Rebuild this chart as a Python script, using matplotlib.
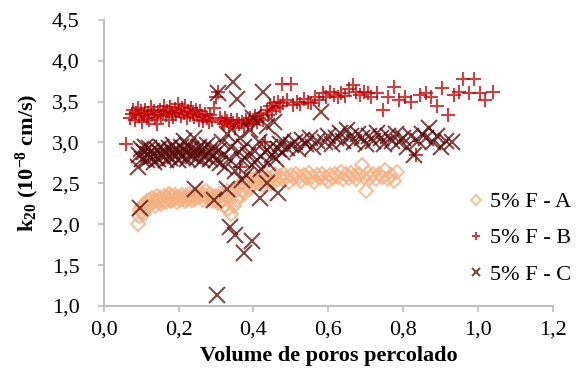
#!/usr/bin/env python3
# -*- coding: utf-8 -*-
import matplotlib
matplotlib.use('Agg')
import matplotlib.pyplot as plt

plt.rcParams['font.family'] = ['Liberation Serif', 'DejaVu Serif']
plt.rcParams['mathtext.fontset'] = 'custom'
plt.rcParams['mathtext.rm'] = 'Liberation Serif:bold'
plt.rcParams['mathtext.it'] = 'Liberation Serif:bold'
plt.rcParams['mathtext.bf'] = 'Liberation Serif:bold'
plt.rcParams['mathtext.default'] = 'rm'

# 5% F - A (diamonds)
a_x = [0.090, 0.093, 0.096, 0.100, 0.103, 0.106, 0.110, 0.113, 0.116, 0.120,
       0.123, 0.126, 0.130, 0.133, 0.136, 0.140, 0.143, 0.146, 0.150, 0.153,
       0.156, 0.160, 0.163, 0.166, 0.170, 0.173, 0.176, 0.180, 0.183, 0.186,
       0.190, 0.193, 0.196, 0.200, 0.204, 0.208, 0.212, 0.216, 0.220, 0.224,
       0.228, 0.232, 0.236, 0.240, 0.244, 0.248, 0.252, 0.256, 0.260, 0.264,
       0.268, 0.272, 0.276, 0.280, 0.284, 0.288, 0.292, 0.296, 0.300, 0.304,
       0.308, 0.312, 0.316, 0.320, 0.324, 0.328, 0.332, 0.336, 0.340, 0.344,
       0.348, 0.352, 0.356, 0.360, 0.364, 0.368, 0.372, 0.376, 0.380, 0.385,
       0.390, 0.395, 0.400, 0.405, 0.410, 0.415, 0.420, 0.425, 0.430, 0.435,
       0.440, 0.446, 0.452, 0.458, 0.464, 0.470, 0.476, 0.482, 0.488, 0.494,
       0.500, 0.507, 0.514, 0.521, 0.528, 0.535, 0.542, 0.549, 0.556, 0.563,
       0.570, 0.577, 0.584, 0.591, 0.598, 0.605, 0.612, 0.619, 0.626, 0.633,
       0.640, 0.647, 0.654, 0.661, 0.668, 0.675, 0.682, 0.690, 0.695, 0.700,
       0.706, 0.712, 0.720, 0.728, 0.736, 0.744, 0.752, 0.760, 0.768, 0.776,
       0.784]
a_y = [2.00, 2.10, 2.18, 2.15, 2.22, 2.12, 2.25, 2.20, 2.28, 2.22,
       2.30, 2.25, 2.32, 2.27, 2.22, 2.30, 2.35, 2.28, 2.32, 2.25,
       2.30, 2.35, 2.30, 2.27, 2.33, 2.37, 2.30, 2.28, 2.34, 2.30,
       2.36, 2.32, 2.27, 2.33, 2.30, 2.36, 2.32, 2.28, 2.34, 2.31,
       2.37, 2.33, 2.29, 2.35, 2.31, 2.36, 2.33, 2.39, 2.34, 2.30,
       2.36, 2.40, 2.34, 2.31, 2.37, 2.33, 2.28, 2.35, 2.30, 2.26,
       2.33, 2.38, 2.30, 2.22, 2.35, 2.40, 2.18, 2.30, 2.12, 2.38,
       2.22, 2.42, 2.30, 2.45, 2.36, 2.50, 2.42, 2.38, 2.47, 2.52,
       2.44, 2.55, 2.48, 2.52, 2.58, 2.50, 2.55, 2.48, 2.60, 2.53,
       2.57, 2.50, 2.58, 2.62, 2.54, 2.59, 2.55, 2.62, 2.57, 2.52,
       2.60, 2.56, 2.62, 2.58, 2.53, 2.60, 2.56, 2.63, 2.58, 2.52,
       2.60, 2.56, 2.62, 2.57, 2.53, 2.60, 2.56, 2.62, 2.58, 2.64,
       2.55, 2.61, 2.57, 2.63, 2.59, 2.55, 2.62, 2.72, 2.58, 2.40,
       2.63, 2.57, 2.61, 2.55, 2.62, 2.58, 2.66, 2.55, 2.60, 2.53,
       2.64]

# 5% F - B (plus)
b_x = [0.060, 0.070, 0.074, 0.078, 0.082, 0.086, 0.090, 0.094, 0.098, 0.102,
       0.106, 0.110, 0.114, 0.118, 0.122, 0.126, 0.130, 0.134, 0.138, 0.142,
       0.146, 0.150, 0.154, 0.158, 0.162, 0.166, 0.170, 0.174, 0.178, 0.182,
       0.186, 0.190, 0.194, 0.198, 0.202, 0.206, 0.210, 0.214, 0.218, 0.222,
       0.226, 0.230, 0.234, 0.238, 0.242, 0.246, 0.250, 0.254, 0.258, 0.262,
       0.266, 0.270, 0.275, 0.280, 0.285, 0.290, 0.295, 0.300, 0.305, 0.310,
       0.315, 0.320, 0.325, 0.330, 0.335, 0.340, 0.345, 0.350, 0.355, 0.360,
       0.365, 0.370, 0.375, 0.380, 0.385, 0.390, 0.395, 0.400, 0.405, 0.410,
       0.415, 0.420, 0.425, 0.430, 0.435, 0.440, 0.445, 0.450, 0.455, 0.460,
       0.465, 0.470, 0.475, 0.480, 0.490, 0.500, 0.505, 0.515, 0.525, 0.535,
       0.545, 0.555, 0.565, 0.575, 0.585, 0.595, 0.605, 0.615, 0.625, 0.635,
       0.645, 0.655, 0.665, 0.675, 0.685, 0.695, 0.705, 0.715, 0.730, 0.745,
       0.760, 0.775, 0.790, 0.805, 0.820, 0.835, 0.845, 0.860, 0.875, 0.890,
       0.905, 0.920, 0.935, 0.950, 0.960, 0.975, 0.990, 1.005, 1.020, 1.040]
b_y = [2.98, 3.30, 3.35, 3.40, 3.28, 3.36, 3.42, 3.32, 3.38, 3.25,
       3.34, 3.40, 3.30, 3.36, 3.28, 3.43, 3.33, 3.38, 3.30, 3.22,
       3.35, 3.40, 3.32, 3.37, 3.45, 3.33, 3.39, 3.28, 3.43, 3.36,
       3.31, 3.41, 3.35, 3.47, 3.38, 3.32, 3.42, 3.36, 3.44, 3.30,
       3.39, 3.34, 3.42, 3.37, 3.31, 3.40, 3.35, 3.28, 3.38, 3.32,
       3.26, 3.35, 3.30, 3.25, 3.33, 3.28, 3.42, 3.55, 3.62, 3.30,
       3.25, 3.22, 3.30, 3.26, 3.20, 3.28, 3.24, 3.18, 3.27, 3.22,
       2.70, 3.25, 3.20, 3.28, 3.23, 3.30, 3.22, 3.27, 3.32, 3.25,
       3.30, 3.36, 3.28, 3.00, 3.40, 3.33, 3.45, 3.38, 3.48, 3.42,
       3.50, 3.45, 3.72, 3.48, 3.52, 3.72, 3.46, 3.50, 3.47, 3.53,
       3.50, 3.48, 3.55, 3.52, 3.60, 3.55, 3.62, 3.58, 3.55, 3.60,
       3.57, 3.65, 3.70, 3.62, 3.58, 3.62, 3.60, 3.55, 3.60, 3.40,
       3.55, 3.68, 3.52, 3.55, 3.50, 2.85, 3.58, 3.60, 3.55, 3.44,
       3.67, 3.34, 3.58, 3.62, 3.77, 3.60, 3.77, 3.60, 3.52, 3.62]

# 5% F - C (x)
c_x = [0.090, 0.094, 0.098, 0.102, 0.106, 0.110, 0.114, 0.118, 0.122, 0.126,
       0.130, 0.134, 0.138, 0.142, 0.146, 0.150, 0.154, 0.158, 0.162, 0.166,
       0.170, 0.174, 0.178, 0.182, 0.186, 0.190, 0.194, 0.198, 0.202, 0.206,
       0.210, 0.214, 0.218, 0.222, 0.226, 0.230, 0.234, 0.238, 0.242, 0.246,
       0.250, 0.254, 0.258, 0.262, 0.266, 0.270, 0.275, 0.280, 0.285, 0.290,
       0.295, 0.300, 0.305, 0.310, 0.315, 0.320, 0.325, 0.330, 0.335, 0.340,
       0.345, 0.350, 0.355, 0.360, 0.365, 0.370, 0.375, 0.380, 0.385, 0.390,
       0.395, 0.400, 0.405, 0.410, 0.415, 0.420, 0.425, 0.430, 0.435, 0.440,
       0.445, 0.450, 0.455, 0.460, 0.465, 0.470, 0.475, 0.480, 0.490, 0.500,
       0.510, 0.520, 0.530, 0.540, 0.550, 0.560, 0.570, 0.580, 0.590, 0.600,
       0.610, 0.620, 0.630, 0.640, 0.650, 0.660, 0.670, 0.680, 0.690, 0.700,
       0.710, 0.720, 0.730, 0.740, 0.750, 0.760, 0.770, 0.780, 0.790, 0.800,
       0.810, 0.820, 0.830, 0.840, 0.850, 0.860, 0.870, 0.880, 0.890, 0.900,
       0.915, 0.930,
       0.096, 0.243, 0.294, 0.329, 0.370, 0.417, 0.435, 0.465, 0.337, 0.350,
       0.396, 0.374, 0.302, 0.305]
c_y = [2.70, 2.85, 2.92, 2.80, 2.88, 2.95, 2.78, 2.86, 2.93, 2.82,
       2.89, 2.76, 2.84, 2.91, 2.80, 2.87, 2.95, 2.83, 2.90, 2.78,
       2.86, 2.93, 2.81, 2.88, 2.97, 2.84, 2.91, 2.79, 2.87, 2.94,
       2.82, 3.02, 2.89, 2.80, 2.96, 2.86, 2.92, 2.83, 3.05, 2.90,
       2.81, 2.95, 2.87, 2.78, 2.92, 2.84, 2.97, 2.88, 2.80, 2.93,
       2.85, 2.78, 2.90, 2.75, 3.00, 2.85, 2.70, 3.10, 2.80, 2.95,
       3.74, 2.65, 3.53, 2.88, 3.05, 2.78, 2.95, 2.60, 2.85, 3.15,
       2.72, 3.30, 2.90, 2.78, 3.00, 2.68, 3.62, 2.88, 3.20, 2.75,
       2.95, 2.85, 3.25, 2.80, 2.92, 2.98, 2.88, 3.02, 2.93, 2.97,
       3.00, 2.92, 3.03, 2.98, 3.05, 2.95, 3.02, 3.37, 3.00, 3.08,
       2.98, 3.05, 3.12, 3.02, 3.15, 3.08, 3.00, 3.10, 3.05, 2.98,
       3.08, 3.02, 3.12, 3.05, 2.98, 3.08, 3.02, 3.10, 3.00, 3.06,
       2.95, 3.08, 2.85, 3.02, 3.10, 3.05, 3.18, 3.00, 3.08, 2.95,
       3.02, 3.00,
       2.20, 2.43, 2.29, 2.43, 2.54, 2.32, 2.50, 2.38, 1.97, 1.87,
       1.80, 1.65, 1.13, 3.60]

fig = plt.figure(figsize=(5.77, 3.74), dpi=100)
ax = fig.add_axes([0.180, 0.182, 0.778, 0.765])

ax.plot(a_x, a_y, linestyle='none', marker='D', markersize=7.5, markerfacecolor='none',
        markeredgecolor='#f4b183', markeredgewidth=1.5, alpha=0.8, label='5% F - A')
ax.plot(b_x, b_y, linestyle='none', marker='+', markersize=10,
        markeredgecolor='#c00000', markeredgewidth=1.5, alpha=0.75, label='5% F - B')
ax.plot(c_x, c_y, linestyle='none', marker='x', markersize=11,
        markeredgecolor='#5a0a0a', markeredgewidth=1.5, alpha=0.75, label='5% F - C')

ax.set_xlim(0, 1.2)
ax.set_ylim(1.0, 4.5)
ax.set_xticks([0, 0.2, 0.4, 0.6, 0.8, 1.0, 1.2])
ax.set_yticks([1.0, 1.5, 2.0, 2.5, 3.0, 3.5, 4.0, 4.5])
ax.set_xticklabels(['0,0', '0,2', '0,4', '0,6', '0,8', '1,0', '1,2'])
ax.set_yticklabels(['1,0', '1,5', '2,0', '2,5', '3,0', '3,5', '4,0', '4,5'])

for s in ['top', 'right']:
    ax.spines[s].set_visible(False)
for s in ['left', 'bottom']:
    ax.spines[s].set_color('#bfbfbf')
    ax.spines[s].set_linewidth(1.5)
ax.tick_params(axis='both', direction='out', length=4.5, width=1.2, color='#bfbfbf',
               labelsize=16, labelcolor='black')
ax.tick_params(axis='x', pad=6)
ax.tick_params(axis='y', pad=13)

ax.set_xlabel('Volume de poros percolado', fontsize=16, fontweight='bold', labelpad=5)
ax.set_ylabel(r'k$_{20}$ (10$^{-8}$ cm/s)', fontsize=16, fontweight='bold')
ax.yaxis.set_label_coords(-0.14, 0.5)

leg = ax.legend(loc='upper left', bbox_to_anchor=(0.795, 0.43), frameon=False, fontsize=16,
                handlelength=0.6, handletextpad=0.3, labelspacing=0.7, borderaxespad=0)
for h in leg.legend_handles:
    h.set_markersize(5.5)

plt.savefig('out.png', dpi=100)
